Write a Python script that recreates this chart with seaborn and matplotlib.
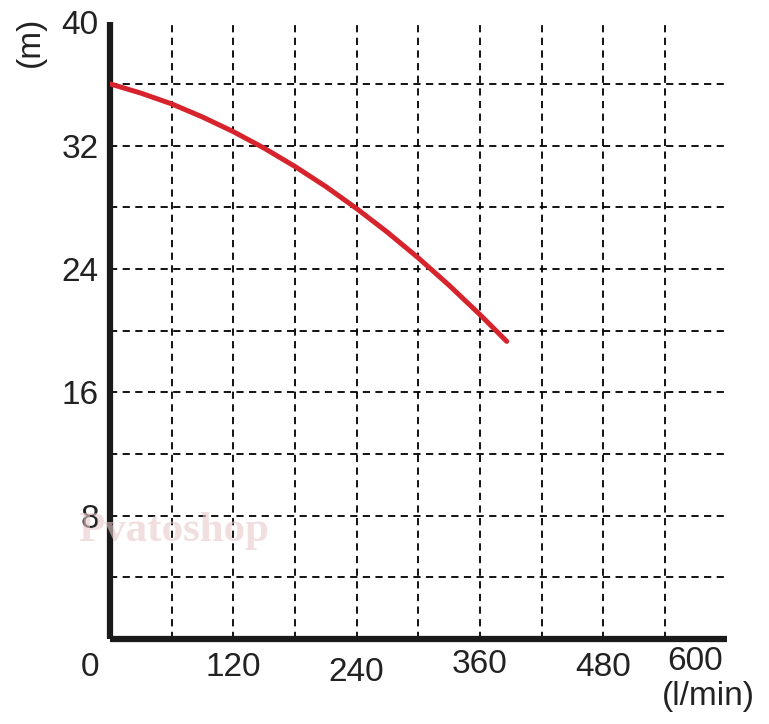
"""Courbe de performance pompe : hauteur (m) en fonction du débit (l/min)."""

import matplotlib
matplotlib.use("Agg")
import matplotlib.pyplot as plt
import matplotlib.transforms as mtransforms
import pandas as pd
import seaborn as sns

# données
debit = [0, 30, 60, 90, 120, 150, 180, 210, 240, 270, 300, 330, 360, 386]
hauteur = [36.0, 35.4, 34.7, 33.85, 32.9, 31.83, 30.64, 29.34, 27.91, 26.37, 24.71, 22.93, 21.03, 19.3]

x_ticks = [120, 240, 360, 480]
y_ticks = [8, 16, 24, 32, 40]
x_grid = [60, 120, 180, 240, 300, 360, 420, 480, 540]
y_grid = [4, 8, 12, 16, 20, 24, 28, 32, 36]

sns.set_style("white")
plt.rcParams["font.family"] = ["Liberation Sans", "DejaVu Sans"]

df = pd.DataFrame({"debit": debit, "hauteur": hauteur})

fig = plt.figure(figsize=(7.69, 7.24), dpi=100)
ax = fig.add_axes([0.143, 0.1174, 0.802, 0.852])

ax.hlines(y_grid, 0, 600, colors="black", linestyles=(0, (4, 3)), linewidth=1.3, zorder=1)
ax.vlines(x_grid, 0, 40, colors="black", linestyles=(0, (4, 3)), linewidth=1.3, zorder=1)

sns.lineplot(data=df, x="debit", y="hauteur", color="#d7242c", linewidth=3.6, ax=ax, zorder=3)
ax.lines[-1].set_solid_joinstyle("round")

ax.set_xlim(0, 600)
ax.set_ylim(0, 40)
ax.set_xticks(x_ticks)
ax.set_yticks(y_ticks)
ax.set_xticklabels([str(v) for v in x_ticks])
ax.set_yticklabels([str(v) for v in y_ticks])
ax.tick_params(length=0, labelsize=24, colors="#222222")
ax.tick_params(axis="x", pad=9)
ax.tick_params(axis="y", pad=8)
ax.set_xlabel("")
ax.set_ylabel("")

# léger décalage vertical des étiquettes comme sur l'original
decalages = [0, -4, 2, 0]
for lab, dy in zip(ax.get_xticklabels(), decalages):
    lab.set_transform(lab.get_transform() + mtransforms.ScaledTranslation(0, dy / 72, fig.dpi_scale_trans))

for side in ["top", "right"]:
    ax.spines[side].set_visible(False)
for side in ["left", "bottom"]:
    ax.spines[side].set_linewidth(4.5)
    ax.spines[side].set_color("#1a1a1a")
    ax.spines[side].set_capstyle("butt")

fig.text(90 / 769, 1 - 668 / 724, "0", fontsize=24, ha="center", va="center", color="#222222")
fig.text(695 / 769, 1 - 662 / 724, "600", fontsize=24, ha="center", va="center", color="#222222")
fig.text(708 / 769, 1 - 697 / 724, "(l/min)", fontsize=24, ha="center", va="center", color="#222222")
fig.text(30 / 769, 1 - 42 / 724, "(m)", fontsize=24, ha="center", va="center", rotation=90, color="#222222")

# filigrane
fig.text(174 / 769, 1 - 531 / 724, "Pvatoshop", fontsize=31, fontweight="bold", ha="center", va="center",
         color="#e8c8c8", alpha=0.6, family=["Liberation Serif", "DejaVu Serif"], zorder=0)

fig.savefig("out.png", dpi=100)
